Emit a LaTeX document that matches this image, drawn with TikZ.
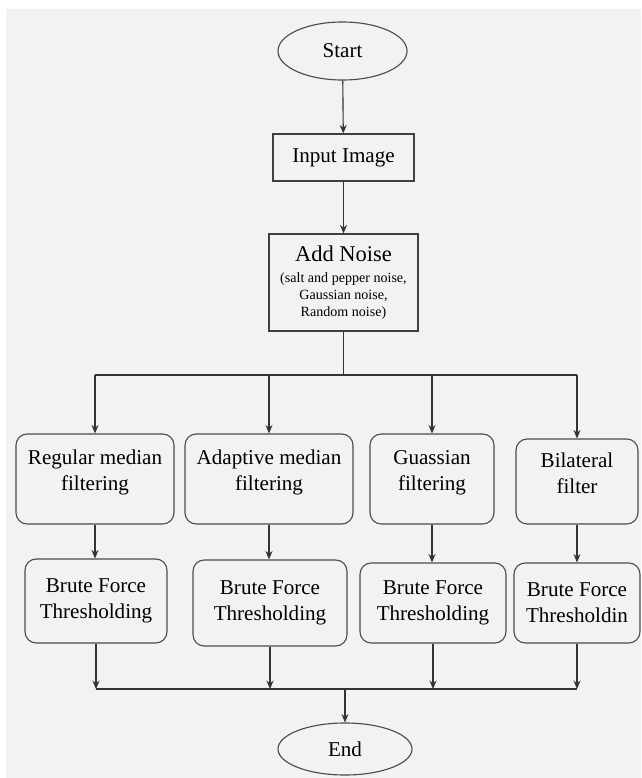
\documentclass[tikz,border=0pt]{standalone}
\usepackage{fontspec}
\setmainfont{Liberation Serif}
\usetikzlibrary{shapes.geometric, arrows.meta, positioning}

\begin{document}
\begin{tikzpicture}[x=0.025cm, y=-0.025cm,
    term/.style={ellipse, draw=black!70, line width=0.8pt, inner sep=0pt, font=\fontsize{15}{18}\selectfont},
    proc/.style={rectangle, draw=black!75, line width=0.9pt, inner sep=2pt, align=center, font=\fontsize{15}{18}\selectfont},
    filt/.style={rectangle, rounded corners=8pt, draw=black!70, line width=0.8pt, inner sep=2pt, align=center, font=\fontsize{15}{18.5}\selectfont},
    arr/.style={-{Stealth[length=6pt, width=5pt]}, draw=black!80, line width=0.8pt},
    line/.style={draw=black!80, line width=0.8pt}
]

% Background panel
\useasboundingbox (0,0) rectangle (641,778);
\fill[white] (0,0) rectangle (641,778);
\fill[gray!10] (6,9) rectangle (641,778);

% Top of the chart
\node[term, minimum width=3.225cm, minimum height=1.45cm] (start) at (342.5,51) {Start};
\node[proc, minimum width=3.525cm, minimum height=1.175cm] (input) at (343.5,157.5) {Input Image};
\node[proc, minimum width=3.725cm, minimum height=2.425cm, font=\fontsize{10}{12}\selectfont] (noise) at (343.5,282.5)
    {{\fontsize{16}{18}\selectfont Add Noise}\\[3pt](salt and pepper noise,\\Gaussian noise,\\Random noise)};

% Filtering stage (row of four)
\node[filt, minimum width=3.95cm, minimum height=2.25cm] (F1) at (95,479) {Regular median\\filtering\\[-6pt]\mbox{}};
\node[filt, minimum width=4.2cm, minimum height=2.25cm] (F2) at (269,479) {Adaptive median\\filtering\\[-6pt]\mbox{}};
\node[filt, minimum width=3.1cm, minimum height=2.25cm] (F3) at (432,479) {Guassian\\filtering\\[-6pt]\mbox{}};
\node[filt, minimum width=3.05cm, minimum height=2.125cm] (F4) at (577,481.5) {Bilateral\\filter\\[-6pt]\mbox{}};

% Thresholding stage
\node[filt, minimum width=3.55cm, minimum height=2.1cm] (T1) at (96,601) {Brute Force\\Thresholding};
\node[filt, minimum width=3.85cm, minimum height=2.15cm] (T2) at (270,603) {Brute Force\\Thresholding};
\node[filt, minimum width=3.65cm, minimum height=2cm] (T3) at (433,603) {Brute Force\\Thresholding};
\node[filt, minimum width=3.15cm, minimum height=2cm] (T4) at (577,603) {Brute Force\\Thresholdin};

% End
\node[term, minimum width=3.35cm, minimum height=1.3cm] (stop) at (345,749) {End};

% Junctions
\coordinate (split) at (343.5,375);
\coordinate (merge) at (345,689);

% Main line
\draw[arr] (start) -- (input);
\draw[arr] (input) -- (noise);
\draw[line] (noise.south) -- (split);
\draw[line] (split -| F1) -- (split -| F4);

% Branches into the filters
\draw[arr] (split -| F1) -- (F1.north);
\draw[arr] (split -| F2) -- (F2.north);
\draw[arr] (split -| F3) -- (F3.north);
\draw[arr] (split -| F4) -- (F4.north);

% Filters to thresholding
\draw[arr] (F1.south) -- (F1.south |- T1.north);
\draw[arr] (F2.south) -- (F2.south |- T2.north);
\draw[arr] (F3.south) -- (F3.south |- T3.north);
\draw[arr] (F4.south) -- (F4.south |- T4.north);

% Thresholding to the merge line
\draw[arr] (T1.south) -- (T1.south |- merge);
\draw[arr] (T2.south) -- (T2.south |- merge);
\draw[arr] (T3.south) -- (T3.south |- merge);
\draw[arr] (T4.south) -- (T4.south |- merge);
\draw[line] (T1.south |- merge) -- (T4.south |- merge);
\draw[arr] (merge) -- (stop);

\end{tikzpicture}
\end{document}
